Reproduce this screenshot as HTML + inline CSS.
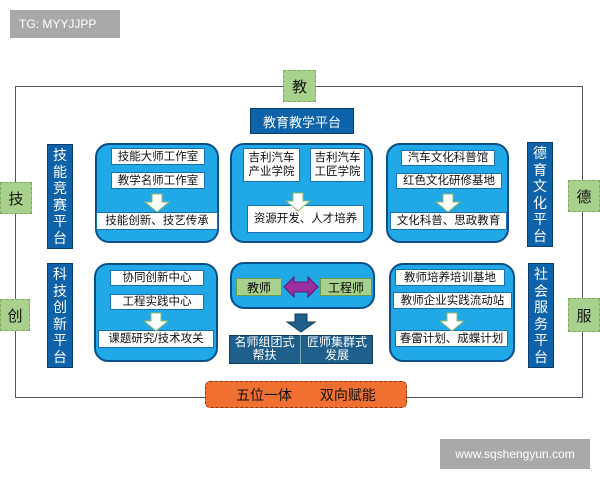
<!DOCTYPE html><html><head><meta charset="utf-8"><style>
body{margin:0;width:600px;height:480px;background:#fff;position:relative;overflow:hidden;font-family:"Liberation Sans","Noto Sans CJK SC",sans-serif}
div{position:absolute;box-sizing:border-box}
.g{background:#a9d18e;border:1px dashed #7faa62;font-size:15px;color:#111;display:flex;align-items:center;justify-content:center}
.v{background:#0e62aa;border:1px solid #0a3d6e;color:#fff;font-size:14px;line-height:16.5px;text-align:center;padding-top:2px;width:26px;overflow:hidden}
.r{background:#21a8e6;border:2px solid #0b4f8a;border-radius:14px}
.w{background:#fff;border:1px solid #1a70b0;font-size:11.5px;color:#111;display:flex;align-items:center;justify-content:center;text-align:center;line-height:14px;white-space:nowrap}
</style></head><body>
<div style="left:10px;top:10px;width:110px;height:28px;background:#a9a9a9;color:#fff;font-size:12px;display:flex;align-items:center;padding-left:9px">TG: MYYJJPP</div>
<div style="left:15px;top:86px;width:568px;height:312px;border:1.5px solid #556"></div>
<div class="g" style="left:283px;top:70px;width:33px;height:32px">教</div>
<div class="g" style="left:0;top:182px;width:32px;height:32px">技</div>
<div class="g" style="left:568px;top:180px;width:32px;height:32px">德</div>
<div class="g" style="left:0;top:299px;width:30px;height:32px">创</div>
<div class="g" style="left:568px;top:298px;width:32px;height:34px">服</div>
<div style="left:250px;top:108px;width:104px;height:26px;background:#0e62aa;border:1px solid #0a3d6e;color:#fff;font-size:13px;display:flex;align-items:center;justify-content:center">教育教学平台</div>
<div class="v" style="left:47px;top:144px;height:105px">技<br>能<br>竞<br>赛<br>平<br>台</div>
<div class="v" style="left:527px;top:142px;height:105px">德<br>育<br>文<br>化<br>平<br>台</div>
<div class="v" style="left:47px;top:263px;height:105px">科<br>技<br>创<br>新<br>平<br>台</div>
<div class="v" style="left:528px;top:263px;height:105px">社<br>会<br>服<br>务<br>平<br>台</div>

<div class="r" style="left:95px;top:143px;width:124px;height:100px"></div>
<div class="w" style="left:111px;top:148px;width:94px;height:17px">技能大师工作室</div>
<div class="w" style="left:111px;top:172px;width:94px;height:17px">教学名师工作室</div>
<div class="w" style="left:96px;top:212px;width:122px;height:18px">技能创新、技艺传承</div>

<div class="r" style="left:230px;top:143px;width:143px;height:100px"></div>
<div class="w" style="left:243px;top:148px;width:57px;height:34px">吉利汽车<br>产业学院</div>
<div class="w" style="left:310px;top:148px;width:55px;height:34px">吉利汽车<br>工匠学院</div>
<div class="w" style="left:247px;top:205px;width:117px;height:28px">资源开发、人才培养</div>

<div class="r" style="left:386px;top:143px;width:123px;height:100px"></div>
<div class="w" style="left:401px;top:150px;width:94px;height:16px">汽车文化科普馆</div>
<div class="w" style="left:396px;top:173px;width:106px;height:16px">红色文化研修基地</div>
<div class="w" style="left:390px;top:212px;width:117px;height:18px">文化科普、思政教育</div>

<div class="r" style="left:94px;top:263px;width:124px;height:99px"></div>
<div class="w" style="left:110px;top:270px;width:94px;height:16px">协同创新中心</div>
<div class="w" style="left:110px;top:294px;width:94px;height:16px">工程实践中心</div>
<div class="w" style="left:98px;top:330px;width:116px;height:18px">课题研究/技术攻关</div>

<div class="r" style="left:230px;top:262px;width:145px;height:47px"></div>
<div style="left:236px;top:278px;width:46px;height:18px;background:#a9d18e;border:1px solid #6a9a4a;font-size:12px;display:flex;align-items:center;justify-content:center">教师</div>
<div style="left:320px;top:278px;width:52px;height:18px;background:#a9d18e;border:1px solid #6a9a4a;font-size:12px;display:flex;align-items:center;justify-content:center">工程师</div>

<div class="r" style="left:389px;top:263px;width:126px;height:99px"></div>
<div class="w" style="left:395px;top:269px;width:110px;height:17px">教师培养培训基地</div>
<div class="w" style="left:393px;top:292px;width:119px;height:17px">教师企业实践流动站</div>
<div class="w" style="left:395px;top:330px;width:113px;height:17px">春雷计划、成蝶计划</div>

<svg style="position:absolute;left:0;top:0" width="600" height="480">
<g fill="#fff" stroke="#8fb870" stroke-width="1">
<path d="M152 194h10v8h7l-12 10-12-10h7z"/>
<path d="M293 193h10v8h7l-12 10-12-10h7z"/>
<path d="M443 194h10v8h7l-12 10-12-10h7z"/>
<path d="M151 313h10v8h7l-12 10-12-10h7z"/>
<path d="M447 313h10v8h7l-12 10-12-10h7z"/>
</g>
<path d="M284 287l10-10v5h14v-5l10 10-10 10v-5h-14v5z" fill="#9b2ea0" stroke="#5a1a70"/>
<path d="M295 314h12v8h8l-14 10-14-10h8z" fill="#1f5f8c" stroke="#123e5e"/>
</svg>
<div style="left:229px;top:335px;width:144px;height:29px;background:#1f5f8c;border:1px solid #123e5e"></div>
<div style="left:229px;top:335px;width:72px;height:29px;color:#fff;font-size:12px;line-height:13px;text-align:center;padding-top:1px;border-right:1px solid #7aa">名师组团式<br>帮扶</div>
<div style="left:301px;top:335px;width:72px;height:29px;color:#fff;font-size:12px;line-height:13px;text-align:center;padding-top:1px">匠师集群式<br>发展</div>
<div style="left:205px;top:381px;width:202px;height:27px;background:#ef7030;border:1.5px dashed #8a3a10;border-radius:5px;font-size:14px;color:#111;display:flex;align-items:center;justify-content:center;word-spacing:24px">五位一体 双向赋能</div>
<div style="left:440px;top:439px;width:150px;height:30px;background:#a9a9a9;color:#fff;font-size:12px;display:flex;align-items:center;justify-content:center">www.sqshengyun.com</div>
</body></html>
